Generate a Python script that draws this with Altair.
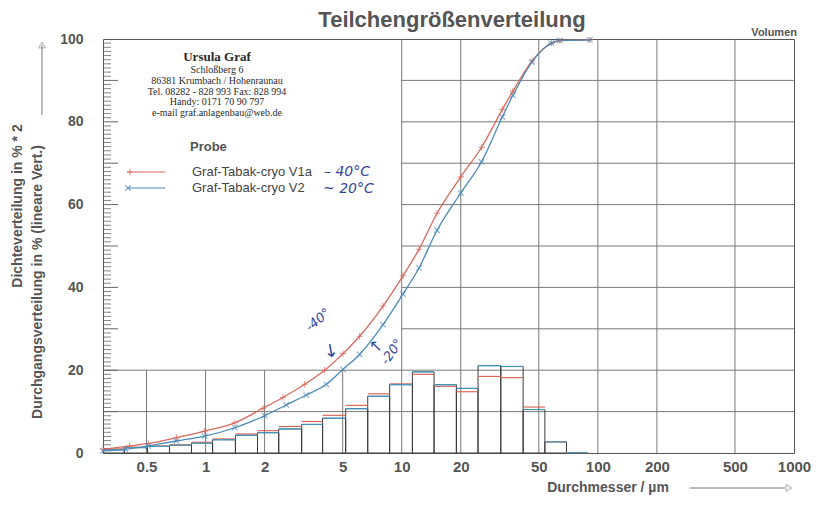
import altair as alt
import pandas as pd

# ---------------- data ----------------
# histogram size classes (µm) and density values (Dichteverteilung in % * 2)
bin_edges = [0.30, 0.386, 0.506, 0.655, 0.848, 1.086, 1.42, 1.84, 2.36, 3.09, 3.95,
             5.18, 6.71, 8.68, 11.34, 14.62, 19.0, 24.5, 32.0, 41.6, 53.7, 69.2, 88.9]
dens_v1a = [1.0, 1.4, 1.7, 2.0, 2.6, 3.4, 4.6, 5.4, 6.4, 7.6, 9.1, 11.5, 14.3, 16.7,
            19.0, 16.1, 14.8, 18.5, 18.2, 11.1, 2.7, 0.1]
dens_v2 = [0.8, 1.3, 1.6, 1.9, 2.4, 3.2, 4.3, 4.9, 5.8, 6.9, 8.4, 10.7, 13.7, 16.5,
           19.6, 16.5, 15.6, 21.1, 20.9, 10.5, 2.7, 0.1]

# cumulative (Durchgangsverteilung in %)
cum_d_v1a = [0.30, 0.41, 0.51, 0.71, 0.99, 1.41, 1.96, 2.48, 3.2, 4.05, 5.02, 6.1, 8.03,
             10.15, 12.25, 15.14, 20.0, 25.5, 32.6, 36.9, 46.2, 58.0, 64.0, 91.0]
cum_v1a = [0.9, 1.7, 2.3, 3.7, 5.3, 7.3, 10.8, 13.4, 16.6, 20.0, 24.0, 28.2, 35.5,
           42.8, 49.2, 57.9, 66.7, 73.8, 83.0, 87.4, 94.7, 99.0, 99.6, 99.8]
cum_d_v2 = [0.30, 0.39, 0.51, 0.71, 0.99, 1.41, 2.0, 2.58, 3.26, 4.13, 5.02, 6.1, 8.03,
            10.15, 12.25, 15.14, 20.0, 25.5, 32.6, 36.9, 46.2, 58.0, 64.0, 91.0]
cum_v2 = [0.5, 0.9, 1.7, 2.9, 4.1, 6.1, 9.0, 11.6, 14.0, 16.6, 20.2, 23.8, 31.0,
          38.4, 44.7, 53.8, 62.8, 70.3, 81.2, 86.4, 94.5, 99.0, 99.6, 99.8]

series_names = ["Graf-Tabak-cryo V1a", "Graf-Tabak-cryo V2"]
x_ticks = [0.5, 1, 2, 5, 10, 20, 50, 100, 200, 500, 1000]
y_ticks = [0, 20, 40, 60, 80, 100]

# grid layout (partial grid as in the original printout)
vgrid_full = [10, 20, 50, 100, 200, 500]
vgrid_low = [0.5, 1, 2, 5]
hgrid_full = [10, 20]
hgrid_right = [30, 40, 50, 60, 70, 80, 90]

RED = "#d9695c"
BLUE = "#4a8ab8"
GRID = "#7a7a7a"
TXT = "#555555"
INK = "#35479c"

W, H = 691, 414

xs = alt.Scale(type="log", domain=[0.3, 1000], nice=False)
ys = alt.Scale(domain=[0, 100], nice=False, zero=False)

xax = alt.Axis(values=x_ticks, format="~g", grid=False, domain=False, ticks=False,
               labelFont="Liberation Sans", labelFontWeight="bold", labelFontSize=15,
               labelColor=TXT, labelPadding=6, title=None, labelFlush=False)
yax = alt.Axis(values=y_ticks, grid=False, domain=False, ticks=False,
               labelFont="Liberation Sans", labelFontWeight="bold", labelFontSize=14,
               labelColor=TXT, labelPadding=20, title=None)


def X(f):
    return alt.X(f, type="quantitative", scale=xs, axis=xax)


def Y(f):
    return alt.Y(f, type="quantitative", scale=ys, axis=yax)


hist = pd.DataFrame({"lo": bin_edges[:-1], "hi": bin_edges[1:],
                     "v1a": dens_v1a, "v2": dens_v2})
cum = pd.concat([
    pd.DataFrame({"d": cum_d_v1a, "v": cum_v1a, "s": series_names[0]}),
    pd.DataFrame({"d": cum_d_v2, "v": cum_v2, "s": series_names[1]}),
])

# ---------------- grid ----------------
vfull = alt.Chart(pd.DataFrame({"x": vgrid_full, "y": 0, "y2": 100})).mark_rule(
    color=GRID, strokeWidth=1).encode(x=X("x"), y=Y("y"), y2="y2")
vlow = alt.Chart(pd.DataFrame({"x": vgrid_low, "y": 0, "y2": 20})).mark_rule(
    color=GRID, strokeWidth=1).encode(x=X("x"), y=Y("y"), y2="y2")
hfull = alt.Chart(pd.DataFrame({"y": hgrid_full, "x": 0.3, "x2": 1000})).mark_rule(
    color=GRID, strokeWidth=1).encode(x=X("x"), x2="x2", y=Y("y"))
hright = alt.Chart(pd.DataFrame({"y": hgrid_right, "x": 10, "x2": 1000})).mark_rule(
    color=GRID, strokeWidth=1).encode(x=X("x"), x2="x2", y=Y("y"))

minor = [i for i in range(1, 100) if i % 10]
major = [i for i in range(10, 100, 10)]
tminor = alt.Chart(pd.DataFrame({"y": minor})).mark_rule(color="#666", strokeWidth=0.8).encode(
    x=alt.value(0), x2=alt.value(8), y=Y("y"))
tmajor = alt.Chart(pd.DataFrame({"y": major})).mark_rule(color="#666", strokeWidth=1).encode(
    x=alt.value(0), x2=alt.value(15), y=Y("y"))

# ---------------- histogram ----------------
hb = alt.Chart(hist)
bars = hb.mark_rect(fill="white", fillOpacity=0, stroke="#3a3a3a", strokeWidth=1).encode(
    x=X("lo"), x2="hi", y=Y("v2"), y2=alt.datum(0))
top_r = hb.mark_rule(color=RED, strokeWidth=1.2).encode(x=X("lo"), x2="hi", y=Y("v1a"))
top_b = hb.mark_rule(color="#3aa6d8", strokeWidth=1.2, opacity=0.8).encode(
    x=X("lo"), x2="hi", y=Y("v2"))

# ---------------- cumulative curves ----------------
cscale = alt.Scale(domain=series_names, range=[RED, BLUE])
lines = alt.Chart(cum).mark_line(interpolate="monotone", strokeWidth=1.3).encode(
    x=X("d"), y=Y("v"), color=alt.Color("s:N", scale=cscale, legend=None))
PLUS = "M-1,0L1,0M0,-1L0,1"
CROSS = "M-1,-1L1,1M-1,1L1,-1"
pts_r = alt.Chart(cum[cum.s == series_names[0]]).mark_point(
    shape=PLUS, size=40, filled=False, strokeWidth=1.1, color=RED).encode(x=X("d"), y=Y("v"))
pts_b = alt.Chart(cum[cum.s == series_names[1]]).mark_point(
    shape=CROSS, size=30, filled=False, strokeWidth=1.1, color=BLUE).encode(x=X("d"), y=Y("v"))


# ---------------- texts / decorations ----------------
def label(text, x, y, **kw):
    return alt.Chart(pd.DataFrame({"t": [text]})).mark_text(**kw).encode(
        text="t", x=alt.value(x), y=alt.value(y))


def seg(x1, x2, y1, y2, **kw):
    return alt.Chart(pd.DataFrame({"a": [0]})).mark_rule(**kw).encode(
        x=alt.value(x1), x2=alt.value(x2), y=alt.value(y1), y2=alt.value(y2))


def marker(x, y, **kw):
    return alt.Chart(pd.DataFrame({"a": [0]})).mark_point(**kw).encode(
        x=alt.value(x), y=alt.value(y))


sans = dict(font="Liberation Sans")
serif = dict(font="Liberation Serif", color="#2a2a2a")

deco = [
    label("Teilchengrößenverteilung", 349, -19, fontSize=22, fontWeight="bold", color=TXT, **sans),
    label("Volumen", 694, -6, fontSize=11, fontWeight="bold", color=TXT, align="right", **sans),
    label("Durchmesser / µm", 505, 449, fontSize=14, fontWeight="bold", color=TXT, **sans),
    seg(587, 682, 449, 449, color="#777", strokeWidth=1),
    marker(686, 449, shape="triangle-right", size=45, filled=False, color="#888", strokeWidth=1),
    label("Dichteverteilung in % * 2", -85, 167, angle=270, fontSize=14, fontWeight="bold",
          color=TXT, **sans),
    label("Durchgangsverteilung in % (lineare Vert.)", -65, 243, angle=270, fontSize=14,
          fontWeight="bold", color=TXT, **sans),
    seg(-61, -61, 6, 76, color="#777", strokeWidth=1),
    marker(-61, 6, shape="triangle-up", size=45, filled=False, color="#888", strokeWidth=1),
    # address block
    label("Ursula Graf", 114, 18, fontSize=13, fontWeight="bold", **serif),
    label("Schloßberg 6", 114, 31, fontSize=10, **serif),
    label("86381 Krumbach / Hohenraunau", 114, 42, fontSize=10, **serif),
    label("Tel. 08282 - 828 993 Fax: 828 994", 114, 53, fontSize=10, **serif),
    label("Handy: 0171 70 90 797", 114, 63, fontSize=10, **serif),
    label("e-mail graf.anlagenbau@web.de", 114, 74, fontSize=10, **serif),
    # legend
    label("Probe", 87, 108, fontSize=13, fontWeight="bold", color=TXT, align="left", **sans),
    seg(24, 62, 133, 133, color=RED, strokeWidth=1.2),
    marker(27, 133, shape=PLUS, size=40, filled=False, color=RED, strokeWidth=1.1),
    label(series_names[0], 89, 133, fontSize=13, color="#444", align="left", **sans),
    seg(24, 62, 149, 149, color=BLUE, strokeWidth=1.2),
    marker(25, 149, shape=CROSS, size=30, filled=False, color=BLUE, strokeWidth=1.1),
    label(series_names[1], 89, 149, fontSize=13, color="#444", align="left", **sans),
    # handwritten notes
    label("– 40°C", 221, 133, fontSize=14, color=INK, align="left", font="DejaVu Sans",
          fontStyle="italic", fontWeight="normal"),
    label("~ 20°C", 220, 150, fontSize=14, color=INK, align="left", font="DejaVu Sans",
          fontStyle="italic", fontWeight="normal"),
    label("-40°", 215, 281, fontSize=13, color=INK, angle=320, font="DejaVu Sans",
          fontStyle="italic"),
    label("↓", 228, 313, fontSize=18, color=INK, angle=350, font="DejaVu Sans"),
    label("↖", 273, 307, fontSize=16, color=INK, font="DejaVu Sans"),
    label("-20°", 289, 313, fontSize=13, color=INK, angle=305, font="DejaVu Sans",
          fontStyle="italic"),
]

chart = alt.layer(
    vfull, vlow, hfull, hright, tminor, tmajor,
    bars, top_r, top_b, lines, pts_r, pts_b, *deco
).properties(
    width=W, height=H,
    padding={"left": 95, "top": 31, "right": 20, "bottom": 45},
    autosize=alt.AutoSizeParams(type="none"),
    background="white",
).configure_view(stroke="#555", strokeWidth=1)

chart.save("out.html", embed_options={"renderer": "svg", "actions": False})
